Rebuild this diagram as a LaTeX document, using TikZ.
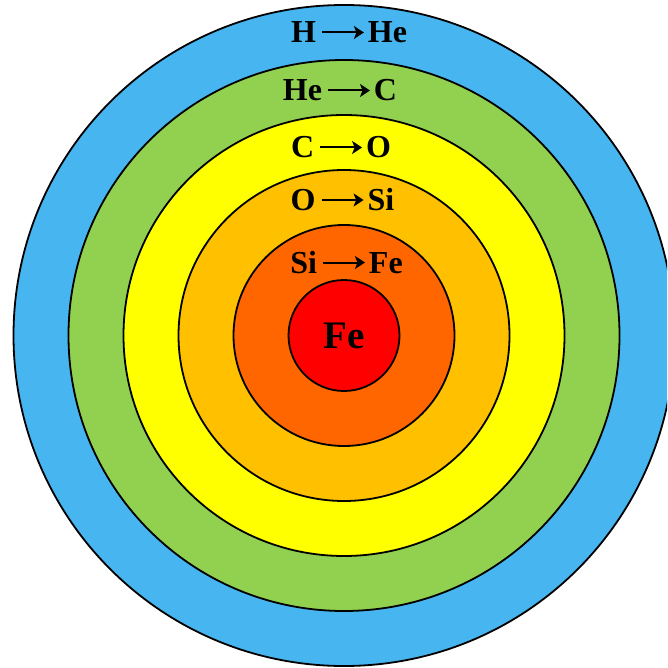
\documentclass[tikz,border=0pt]{standalone}
\usepackage{fontspec}
\setmainfont{Liberation Serif}
\usetikzlibrary{arrows.meta}
\definecolor{shellH}{HTML}{47B5EF}
\definecolor{shellHe}{HTML}{92D050}
\definecolor{shellC}{HTML}{FFFF00}
\definecolor{shellO}{HTML}{FFC000}
\definecolor{shellSi}{HTML}{FF6600}
\definecolor{shellFe}{HTML}{FF0000}
\newcommand{\fusarrow}{\hspace{5pt}\tikz[baseline=-10.5pt]\draw[line width=2pt,-{Stealth[length=10pt,width=13pt,inset=2.5pt]}] (0pt,0pt)--(42pt,0pt);\hspace{3pt}}
\tikzset{
  shell/.style={draw=black,line width=1.8pt},
  shelllabel/.style={font=\fontsize{32}{36}\selectfont\bfseries,anchor=base,inner sep=0pt},
  corelabel/.style={font=\fontsize{39}{44}\selectfont\bfseries,anchor=base,inner sep=0pt}
}
\begin{document}
\begin{tikzpicture}[x=1pt,y=-1pt]
\useasboundingbox (0,0) rectangle (667,668);
\clip (0,0) rectangle (667,668);
\coordinate (c) at (344,335.5);
\fill[shellH] (c) circle (330.5);
\draw[shell] (c) circle (330.5);
\fill[shellHe] (c) circle (275.5);
\draw[shell] (c) circle (275.5);
\fill[shellC] (c) circle (220.5);
\draw[shell] (c) circle (220.5);
\fill[shellO] (c) circle (165.5);
\draw[shell] (c) circle (165.5);
\fill[shellSi] (c) circle (110.5);
\draw[shell] (c) circle (110.5);
\fill[shellFe] (c) circle (55.5);
\draw[shell] (c) circle (55.5);
\node[shelllabel] (lH) at (349,43) {H\fusarrow He};
\node[shelllabel] (lHe) at (340,101) {He\fusarrow C};
\node[shelllabel] (lC) at (341,158) {C\fusarrow O};
\node[shelllabel] (lO) at (342.5,210.5) {O\fusarrow Si};
\node[shelllabel] (lSi) at (346.5,273) {Si\fusarrow Fe};
\node[corelabel] (lFe) at (344,348) {Fe};
\end{tikzpicture}
\end{document}
